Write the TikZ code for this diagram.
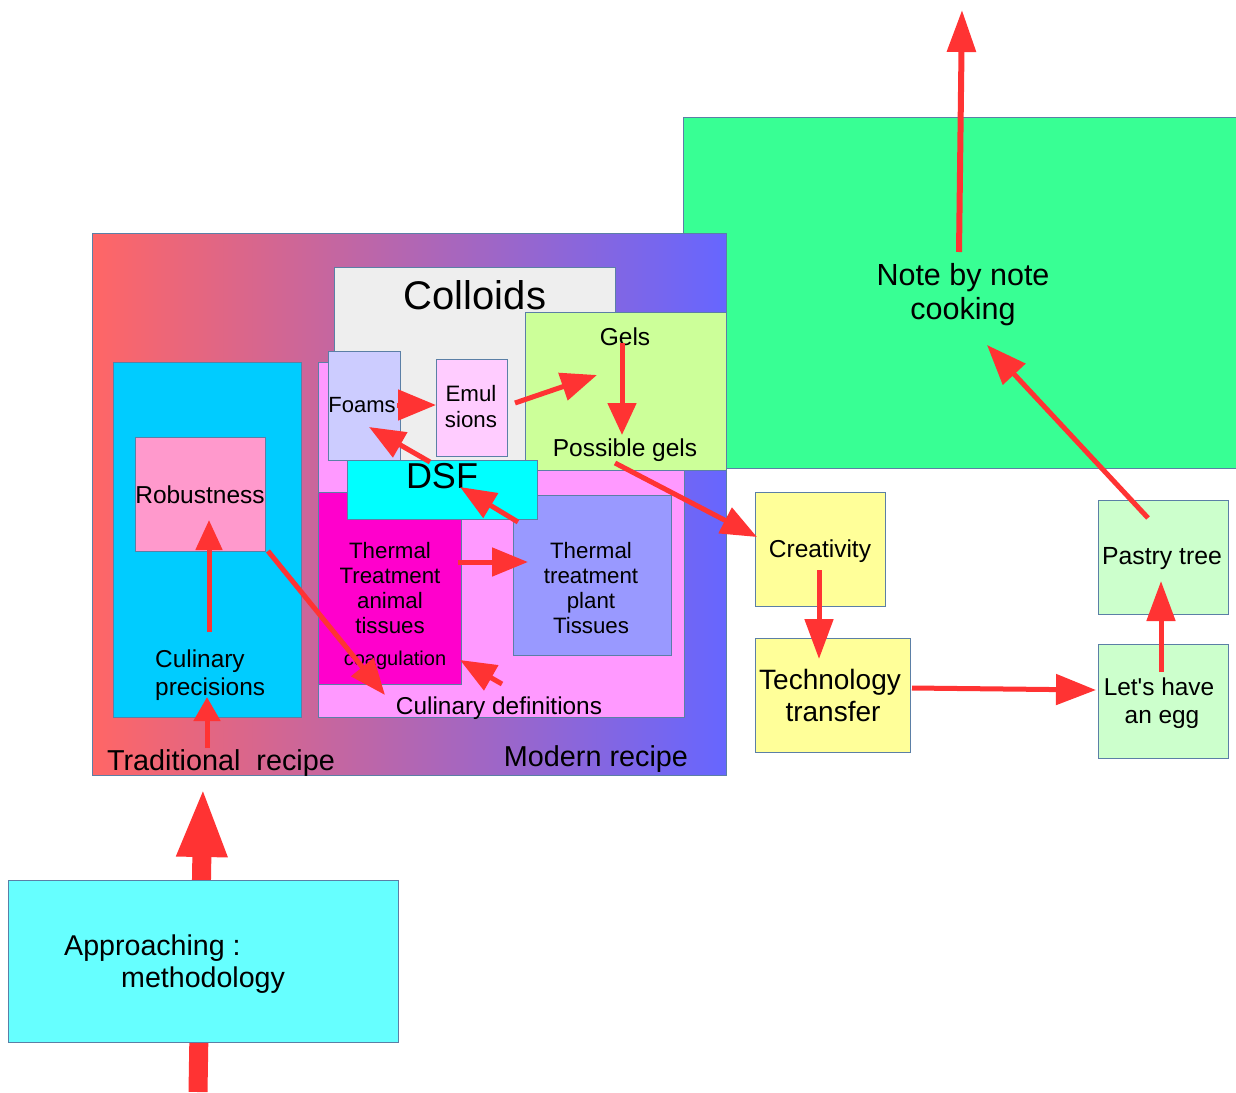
\documentclass[tikz,border=0pt]{standalone}
\usepackage{fontspec}
\setmainfont{Liberation Sans}[Ligatures=TeXOff]
\usetikzlibrary{arrows.meta}
\definecolor{arrred}{HTML}{FF3333}
\definecolor{boxline}{HTML}{5B7FA6}
\definecolor{grn}{HTML}{38FF94}
\definecolor{gradL}{HTML}{FF6666}
\definecolor{gradR}{HTML}{6666FF}
\definecolor{pinkbg}{HTML}{FF99FF}
\definecolor{tradblue}{HTML}{00CCFF}
\definecolor{robpink}{HTML}{FF99CC}
\definecolor{collgrey}{HTML}{EEEEEE}
\definecolor{foamc}{HTML}{CCCCFF}
\definecolor{emulc}{HTML}{FFCCFF}
\definecolor{gelc}{HTML}{CCFF99}
\definecolor{animc}{HTML}{FF00CC}
\definecolor{plantc}{HTML}{9999FF}
\definecolor{dsfc}{HTML}{00FFFF}
\definecolor{yelc}{HTML}{FFFF99}
\definecolor{lgrn}{HTML}{CCFFCC}
\definecolor{appc}{HTML}{66FFFF}
\newcommand{\fsz}[2]{\fontsize{#1}{#2}\selectfont}
\begin{document}
\begin{tikzpicture}[x=1pt,y=-1pt,
  box/.style={draw=boxline, line width=1pt, inner sep=0pt, anchor=north west},
  txt/.style={inner sep=0pt, align=center, text=black},
  arr/.style={draw=arrred, line width=5pt, -{Triangle[length=36pt,width=28pt]}},
]
\useasboundingbox (0,0) rectangle (1236,1092);
\fill[white] (0,0) rectangle (1236,1092);

% arrow end points
\coordinate (apTail) at (198,1092); \coordinate (apTip) at (203,787);
\coordinate (cpTail) at (207,748);  \coordinate (cpTip) at (207,697);
\coordinate (prTail) at (209,632);  \coordinate (prTip) at (209,520);
\coordinate (rbTail) at (268,551);  \coordinate (rbTip) at (385,695);
\coordinate (cdTail) at (502,684);  \coordinate (cdTip) at (460,660);
\coordinate (anTail) at (458,562);  \coordinate (anTip) at (528,562);
\coordinate (plTail) at (518,522);  \coordinate (plTip) at (460,487);
\coordinate (dsTail) at (430,462);  \coordinate (dsTip) at (369,427);
\coordinate (foTail) at (397,405);  \coordinate (foTip) at (436,405);
\coordinate (emTail) at (515,403);  \coordinate (emTip) at (597,375);
\coordinate (geTail) at (622,343);  \coordinate (geTip) at (622,435);
\coordinate (pgTail) at (615,463);  \coordinate (pgTip) at (757,537);
\coordinate (crTail) at (819,570);  \coordinate (crTip) at (819,659);
\coordinate (teTail) at (912,688);  \coordinate (teTip) at (1096,690);
\coordinate (egTail) at (1161,672); \coordinate (egTip) at (1161,581);
\coordinate (paTail) at (1148,518); \coordinate (paTip) at (987,345);
\coordinate (noTail) at (959,252);  \coordinate (noTip) at (962,10);

% big green box
\node[box, fill=grn, minimum width=560pt, minimum height=351pt] (notebox) at (683,117) {};

% approach arrow (behind the box)
\draw[draw=arrred, line width=19pt, -{Triangle[length=70pt,width=46pt]}] (apTail) -- (apTip);
\node[box, fill=appc, minimum width=390pt, minimum height=162pt] (appbox) at (8,880) {};

% gradient recipe box
\node[box, left color=gradL, right color=gradR, minimum width=634pt, minimum height=542pt] (bigbox) at (92,233) {};
\node[box, fill=tradblue, minimum width=188pt, minimum height=355pt] (tradbox) at (113,362) {};
\node[box, fill=robpink, minimum width=130pt, minimum height=114pt] (robbox) at (135,437) {};
\node[box, fill=pinkbg, minimum width=366pt, minimum height=355pt] (modbox) at (318,362) {};
\node[box, fill=collgrey, minimum width=281pt, minimum height=193pt] (collbox) at (334,267) {};
\node[box, fill=foamc, minimum width=72pt, minimum height=109pt] (foambox) at (328,351) {};
\node[box, fill=emulc, minimum width=71pt, minimum height=97pt] (emulbox) at (436,359) {};
\node[box, fill=gelc, minimum width=201pt, minimum height=158pt] (gelbox) at (525,312) {};
\node[box, fill=animc, minimum width=143pt, minimum height=192pt] (animbox) at (318,492) {};
\node[box, fill=plantc, minimum width=158pt, minimum height=160pt] (plantbox) at (513,495) {};
\node[box, fill=dsfc, minimum width=190pt, minimum height=59pt] (dsfbox) at (347,460) {};

% right-hand boxes
\node[box, fill=yelc, minimum width=130pt, minimum height=114pt] (creatbox) at (755,492) {};
\node[box, fill=yelc, minimum width=155pt, minimum height=114pt] (techbox) at (755,638) {};
\node[box, fill=lgrn, minimum width=130pt, minimum height=114pt] (pastrybox) at (1098,500) {};
\node[box, fill=lgrn, minimum width=130pt, minimum height=114pt] (eggbox) at (1098,644) {};

% texts
\node[txt, font=\fsz{40}{44}] (colloidsT) at (475,295) {Colloids};
\node[txt, font=\fsz{24.5}{26}] (gelsT) at (625,337) {Gels};
\node[txt, font=\fsz{24.5}{26}] (possT) at (625,450) {Possible gels};
\node[txt, font=\fsz{22}{26}] (foamsT) at (362,405) {Foams};
\node[txt, font=\fsz{22.3}{26}] (emulT) at (471,407) {Emul\\sions};
\node[txt, font=\fsz{36}{40}] (dsfT) at (442,476) {DSF};
\node[txt, font=\fsz{22.3}{25}] (animalT) at (390,588) {Thermal\\Treatment\\animal\\tissues};
\node[txt, font=\fsz{20}{24}] (coagT) at (395,660) {coagulation};
\node[txt, font=\fsz{22.3}{25}] (plantT) at (591,588) {Thermal\\treatment\\plant\\Tissues};
\node[txt, font=\fsz{24.4}{26}] (culdefT) at (499,708) {Culinary definitions};
\node[txt, font=\fsz{24.5}{26}] (robT) at (200,495) {Robustness};
\node[txt, font=\fsz{24.4}{28}, align=left, anchor=west] (culprecT) at (155,675) {Culinary\\precisions};
\node[txt, font=\fsz{28.8}{30}] (tradT) at (221,763) {Traditional\ \ recipe};
\node[txt, font=\fsz{28.8}{30}] (modernT) at (596,759) {Modern recipe};
\node[txt, font=\fsz{24.5}{26}] (creatT) at (820,551) {Creativity};
\node[txt, font=\fsz{28}{32}] (techT) at (830,695) {Technology\\\hspace*{6pt}transfer};
\node[txt, font=\fsz{24.8}{26}] (pastryT) at (1162,559) {Pastry tree};
\node[txt, font=\fsz{24.4}{28}] (eggT) at (1159,703) {Let's have\\\hspace*{6pt}an egg};
\node[txt, font=\fsz{30.5}{34}] (noteT) at (963,295) {Note by note\\cooking};
\node[txt, font=\fsz{28.6}{32}, align=left, anchor=west] (approachT) at (64,964) {Approaching :\\\hspace*{57pt}methodology};

% arrows
\draw[arr, -{Triangle[length=24pt,width=26pt]}] (cpTail) -- (cpTip);
\draw[arr, -{Triangle[length=30pt,width=26pt]}] (prTail) -- (prTip);
\draw[arr] (rbTail) -- (rbTip);
\draw[arr] (cdTail) -- (cdTip);
\draw[arr] (anTail) -- (anTip);
\draw[arr] (plTail) -- (plTip);
\draw[arr] (dsTail) -- (dsTip);
\draw[arr, -{Triangle[length=38pt,width=30pt]}] (foTail) -- (foTip);
\draw[arr] (emTail) -- (emTip);
\draw[arr, -{Triangle[length=32pt,width=28pt]}] (geTail) -- (geTip);
\draw[arr] (pgTail) -- (pgTip);
\draw[arr, -{Triangle[length=40pt,width=28pt]}] (crTail) -- (crTip);
\draw[arr, -{Triangle[length=40pt,width=30pt]}] (teTail) -- (teTip);
\draw[arr, -{Triangle[length=40pt,width=28pt]}] (egTail) -- (egTip);
\draw[arr, -{Triangle[length=40pt,width=30pt]}] (paTail) -- (paTip);
\draw[arr, line width=6pt, -{Triangle[length=42pt,width=28pt]}] (noTail) -- (noTip);
\end{tikzpicture}
\end{document}
